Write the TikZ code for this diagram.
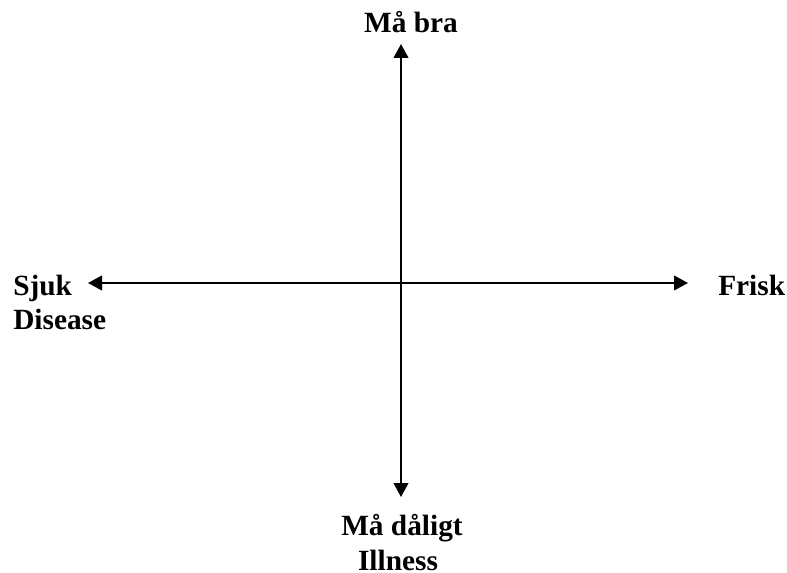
\documentclass[tikz,border=0pt]{standalone}
\usepackage{fontspec}
\setmainfont{Liberation Serif}
\usetikzlibrary{arrows.meta}
\begin{document}
\begin{tikzpicture}[x=0.75pt,y=-0.75pt,
  lbl/.style={font=\bfseries\fontsize{22}{26}\selectfont, inner sep=0pt},
  axis/.style={line width=1.5pt, {Triangle[length=10.5pt,width=11pt]}-{Triangle[length=10.5pt,width=11pt]}}]
\useasboundingbox (0,0) rectangle (787,573);
\coordinate (top) at (401,44);
\coordinate (bottom) at (401,497);
\coordinate (left) at (88,283);
\coordinate (right) at (688,283);
\draw[axis] (bottom) -- (top);
\draw[axis] (left) -- (right);
\node[lbl, anchor=base] (mabra) at (411,33) {Må bra};
\node[lbl, anchor=base west] (sjuk) at (13,295) {Sjuk};
\node[lbl, anchor=base west] (disease) at (13,329) {Disease};
\node[lbl, anchor=base west] (frisk) at (718,295) {Frisk};
\node[lbl, anchor=base] (madaligt) at (402,535) {Må dåligt};
\node[lbl, anchor=base] (illness) at (398,570) {Illness};
\end{tikzpicture}
\end{document}
